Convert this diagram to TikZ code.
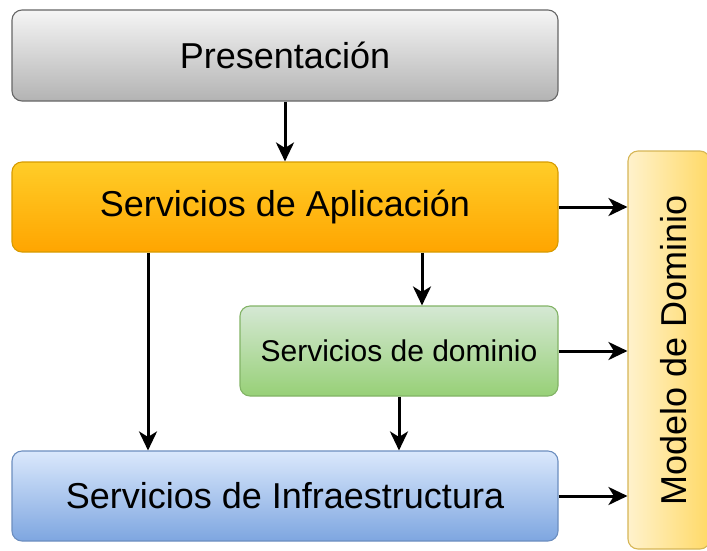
\documentclass[tikz,border=0pt]{standalone}
\usepackage{fontspec}
\setmainfont{Liberation Sans}
\usetikzlibrary{arrows.meta,calc}

\definecolor{grayTop}{HTML}{F5F5F5}
\definecolor{grayBot}{HTML}{B3B3B3}
\definecolor{grayLine}{HTML}{666666}
\definecolor{orTop}{HTML}{FFCD28}
\definecolor{orBot}{HTML}{FFA500}
\definecolor{orLine}{HTML}{D79B00}
\definecolor{grTop}{HTML}{D5E8D4}
\definecolor{grBot}{HTML}{97D077}
\definecolor{grLine}{HTML}{82B366}
\definecolor{blTop}{HTML}{DAE8FC}
\definecolor{blBot}{HTML}{7EA6E0}
\definecolor{blLine}{HTML}{6C8EBF}
\definecolor{yeLeft}{HTML}{FFF2CC}
\definecolor{yeRight}{HTML}{FFD966}
\definecolor{yeLine}{HTML}{D6B656}

\tikzset{
  layer/.style={rectangle, rounded corners=10pt, line width=1.1pt, inner sep=0pt,
    font=\fontsize{36}{43}\selectfont},
  flow/.style={draw=black, line width=3pt, -{Stealth[length=19pt,width=18pt,inset=5.5pt]}},
}

\begin{document}
\begin{tikzpicture}[x=1pt,y=-1pt]
  \useasboundingbox (0,0) rectangle (707,550);

  % layers
  \node[layer, draw=grayLine, top color=grayTop, bottom color=grayBot,
        minimum width=546pt, minimum height=91pt] (pres) at (285,55.5) {Presentación};
  \node[layer, draw=orLine, top color=orTop, bottom color=orBot,
        minimum width=546pt, minimum height=90pt] (aplic) at (285,207) {Servicios de Aplicación};
  \node[layer, draw=grLine, top color=grTop, bottom color=grBot,
        minimum width=318pt, minimum height=90pt, font=\fontsize{30}{36}\selectfont]
        (dom) at (399,351) {Servicios de dominio};
  \node[layer, draw=blLine, top color=blTop, bottom color=blBot,
        minimum width=546pt, minimum height=90pt] (infra) at (285,496) {Servicios de Infraestructura};

  % domain model column, running past the right edge
  \begin{scope}
    \clip (0,0) rectangle (707,550);
    \node[layer, draw=yeLine, left color=yeLeft, right color=yeRight,
          minimum width=82pt, minimum height=398pt,
          label={[rotate=90, font=\fontsize{36}{43}\selectfont, yshift=-5pt]center:Modelo de Dominio}]
          (modelo) at (669,350) {};
  \end{scope}

  % connectors
  \draw[flow] (pres) -- (aplic);
  \draw[flow] ($(aplic.south)+(137,0)$) -- ($(dom.north)+(23,0)$);
  \draw[flow] ($(aplic.south)+(-137,0)$) -- ($(infra.north)+(-137,0)$);
  \draw[flow] (dom) -- (dom |- infra.north);
  \draw[flow] (aplic.east) -- (aplic.east -| modelo.west);
  \draw[flow] (dom.east) -- (dom.east -| modelo.west);
  \draw[flow] (infra.east) -- (infra.east -| modelo.west);
\end{tikzpicture}
\end{document}
